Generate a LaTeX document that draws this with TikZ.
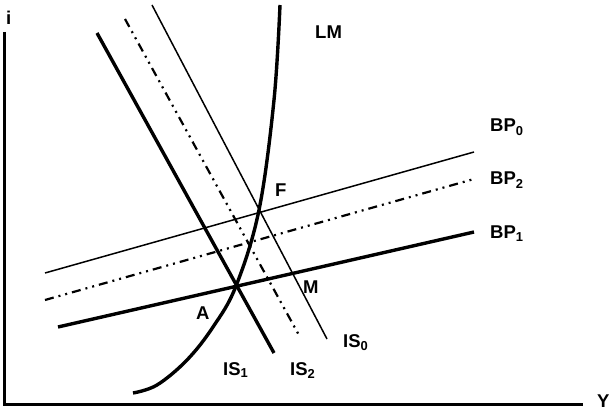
\documentclass[tikz,border=0pt]{standalone}
\usepackage{fontspec}
\setmainfont{Liberation Sans}
\begin{document}
\begin{tikzpicture}[x=1pt, y=1pt,
		axis/.style={black, line width=3pt, line join=miter},
		thickline/.style={black, line width=3.4pt},
		thinline/.style={black, line width=1.5pt},
		dashdotdot/.style={black, line width=2.2pt, dash pattern=on 9pt off 5pt on 2pt off 5pt on 2pt off 5pt},
		lbl/.style={font=\fontsize{18.5}{20}\selectfont\bfseries, inner sep=0pt, anchor=base west}
		]
		
		\useasboundingbox (0,0) rectangle (611,413);
		
		% 坐标轴
		\coordinate (O) at (4.5,9);
		\coordinate (iTop) at (4.5,381);
		\coordinate (YEnd) at (583,9);
		\draw[axis] (iTop) -- (O) -- (YEnd);
		\node[lbl] (iLabel) at (6,388) {i};
		\node[lbl] (YLabel) at (597,6) {Y};
		
		% IS 曲线
		\coordinate (IS1a) at (97,380);
		\coordinate (IS1b) at (274,60);
		\coordinate (IS2a) at (125,394);
		\coordinate (IS2b) at (300,76);
		\coordinate (IS0a) at (152,408);
		\coordinate (IS0b) at (327,74);
		\draw[thickline] (IS1a) -- (IS1b);
		\draw[dashdotdot] (IS2a) -- (IS2b);
		\draw[thinline] (IS0a) -- (IS0b);
		
		% BP 曲线
		\coordinate (BP0a) at (45,140);
		\coordinate (BP0b) at (474,261);
		\coordinate (BP2a) at (45,113);
		\coordinate (BP2b) at (474,234);
		\coordinate (BP1a) at (58,86);
		\coordinate (BP1b) at (474,181);
		\draw[thinline] (BP0a) -- (BP0b);
		\draw[dashdotdot] (BP2a) -- (BP2b);
		\draw[thickline] (BP1a) -- (BP1b);
		
		% LM 曲线
		\draw[thickline] plot[smooth, tension=0.6] coordinates {(133,20) (157,28) (187,53) (213,86) (236,127) (259,203) (274,313) (280,408)};
		
		% 字母标注
		\node[lbl] (LM) at (315,374) {LM};
		\node[lbl] (BP0) at (490,281) {BP\textsubscript{0}};
		\node[lbl] (BP2) at (490,228) {BP\textsubscript{2}};
		\node[lbl] (BP1) at (490,174) {BP\textsubscript{1}};
		\node[lbl] (F) at (275,216) {F};
		\node[lbl] (M) at (303,120) {M};
		\node[lbl] (A) at (196,94) {A};
		\node[lbl] (IS1) at (223,38) {IS\textsubscript{1}};
		\node[lbl] (IS2) at (290,38) {IS\textsubscript{2}};
		\node[lbl] (IS0) at (343,66) {IS\textsubscript{0}};
		
	\end{tikzpicture}
\end{document}
